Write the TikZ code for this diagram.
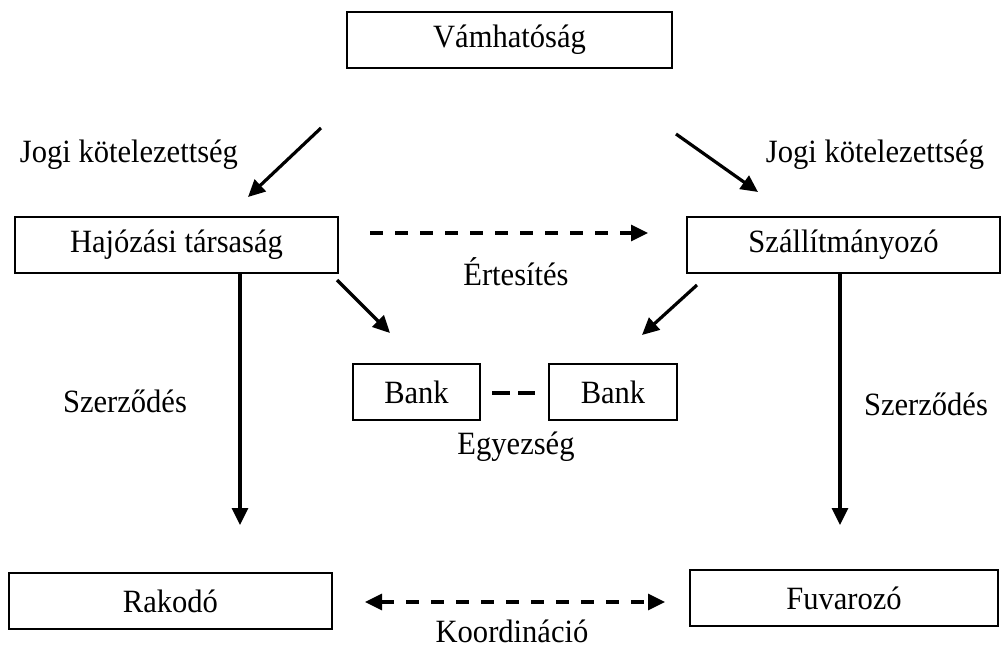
\documentclass[tikz,border=0pt]{standalone}
\usepackage{fontspec}
\setmainfont[FakeStretch=0.94]{Liberation Serif}
\usetikzlibrary{arrows.meta}
\tikzset{
  txt/.style={font=\fontsize{32.5}{38}\selectfont},
  box/.style={draw, line width=1.6pt, inner sep=0pt, minimum height=56pt, txt},
  lbl/.style={anchor=base, inner sep=0pt, txt},
  tip/.tip={Triangle[length=17pt,width=16pt]},
  arr/.style={line width=3.2pt, -tip},
  darr/.style={arr, dash pattern=on 13pt off 12pt},
  ddarr/.style={line width=3.2pt, dash pattern=on 13pt off 12pt, tip-tip},
}
\begin{document}
\begin{tikzpicture}[x=1pt, y=-1pt]
\useasboundingbox (0,0) rectangle (1001,650);

% boxes
\node[box, minimum width=325pt] (vam) at (509.5,40) {\raisebox{-2pt}{Vámhatóság}};
\node[box, minimum width=323pt] (haj) at (176.5,245) {Hajózási társaság};
\node[box, minimum width=313pt] (szal) at (843.5,245) {Szállítmányozó};
\node[box, minimum width=127pt] (bankl) at (416.5,392) {Bank};
\node[box, minimum width=128pt] (bankr) at (613,392) {Bank};
\node[box, minimum width=323pt] (rak) at (170.5,601) {Rakodó};
\node[box, minimum width=308pt] (fuv) at (844,598) {Fuvarozó};

% labels
\node[lbl] (jogl) at (129,162) {Jogi kötelezettség};
\node[lbl] (jogr) at (875,162) {Jogi kötelezettség};
\node[lbl] (ert) at (516,285) {Értesítés};
\node[lbl] (szl) at (125,412) {Szerződés};
\node[lbl] (szr) at (926,415) {Szerződés};
\node[lbl] (egy) at (516,454) {Egyezség};
\node[lbl] (koo) at (512,642) {Koordináció};

% arrow end points
\coordinate (a1s) at (321,128); \coordinate (a1e) at (248,197);
\coordinate (a2s) at (676,134); \coordinate (a2e) at (758,192);
\coordinate (a3s) at (337,280); \coordinate (a3e) at (390,333);
\coordinate (a4s) at (697,285); \coordinate (a4e) at (642,335);
\coordinate (ns) at (370,233);  \coordinate (ne) at (648,233);
\coordinate (vle) at (240,525); \coordinate (vre) at (840,525);
\coordinate (ks) at (365,602);  \coordinate (ke) at (665,602);
\coordinate (bs) at (492,393);  \coordinate (be) at (535,393);

% connectors
\draw[arr] (a1s) -- (a1e);
\draw[arr] (a2s) -- (a2e);
\draw[arr] (a3s) -- (a3e);
\draw[arr] (a4s) -- (a4e);
\draw[darr] (ns) -- (ne);
\draw[arr] (haj.south -| vle) -- (vle);
\draw[arr] (szal.south -| vre) -- (vre);
\draw[ddarr] (ks) -- (ke);
\draw[line width=3.2pt, dash pattern=on 18pt off 8pt] (bs) -- (be);
\end{tikzpicture}
\end{document}
